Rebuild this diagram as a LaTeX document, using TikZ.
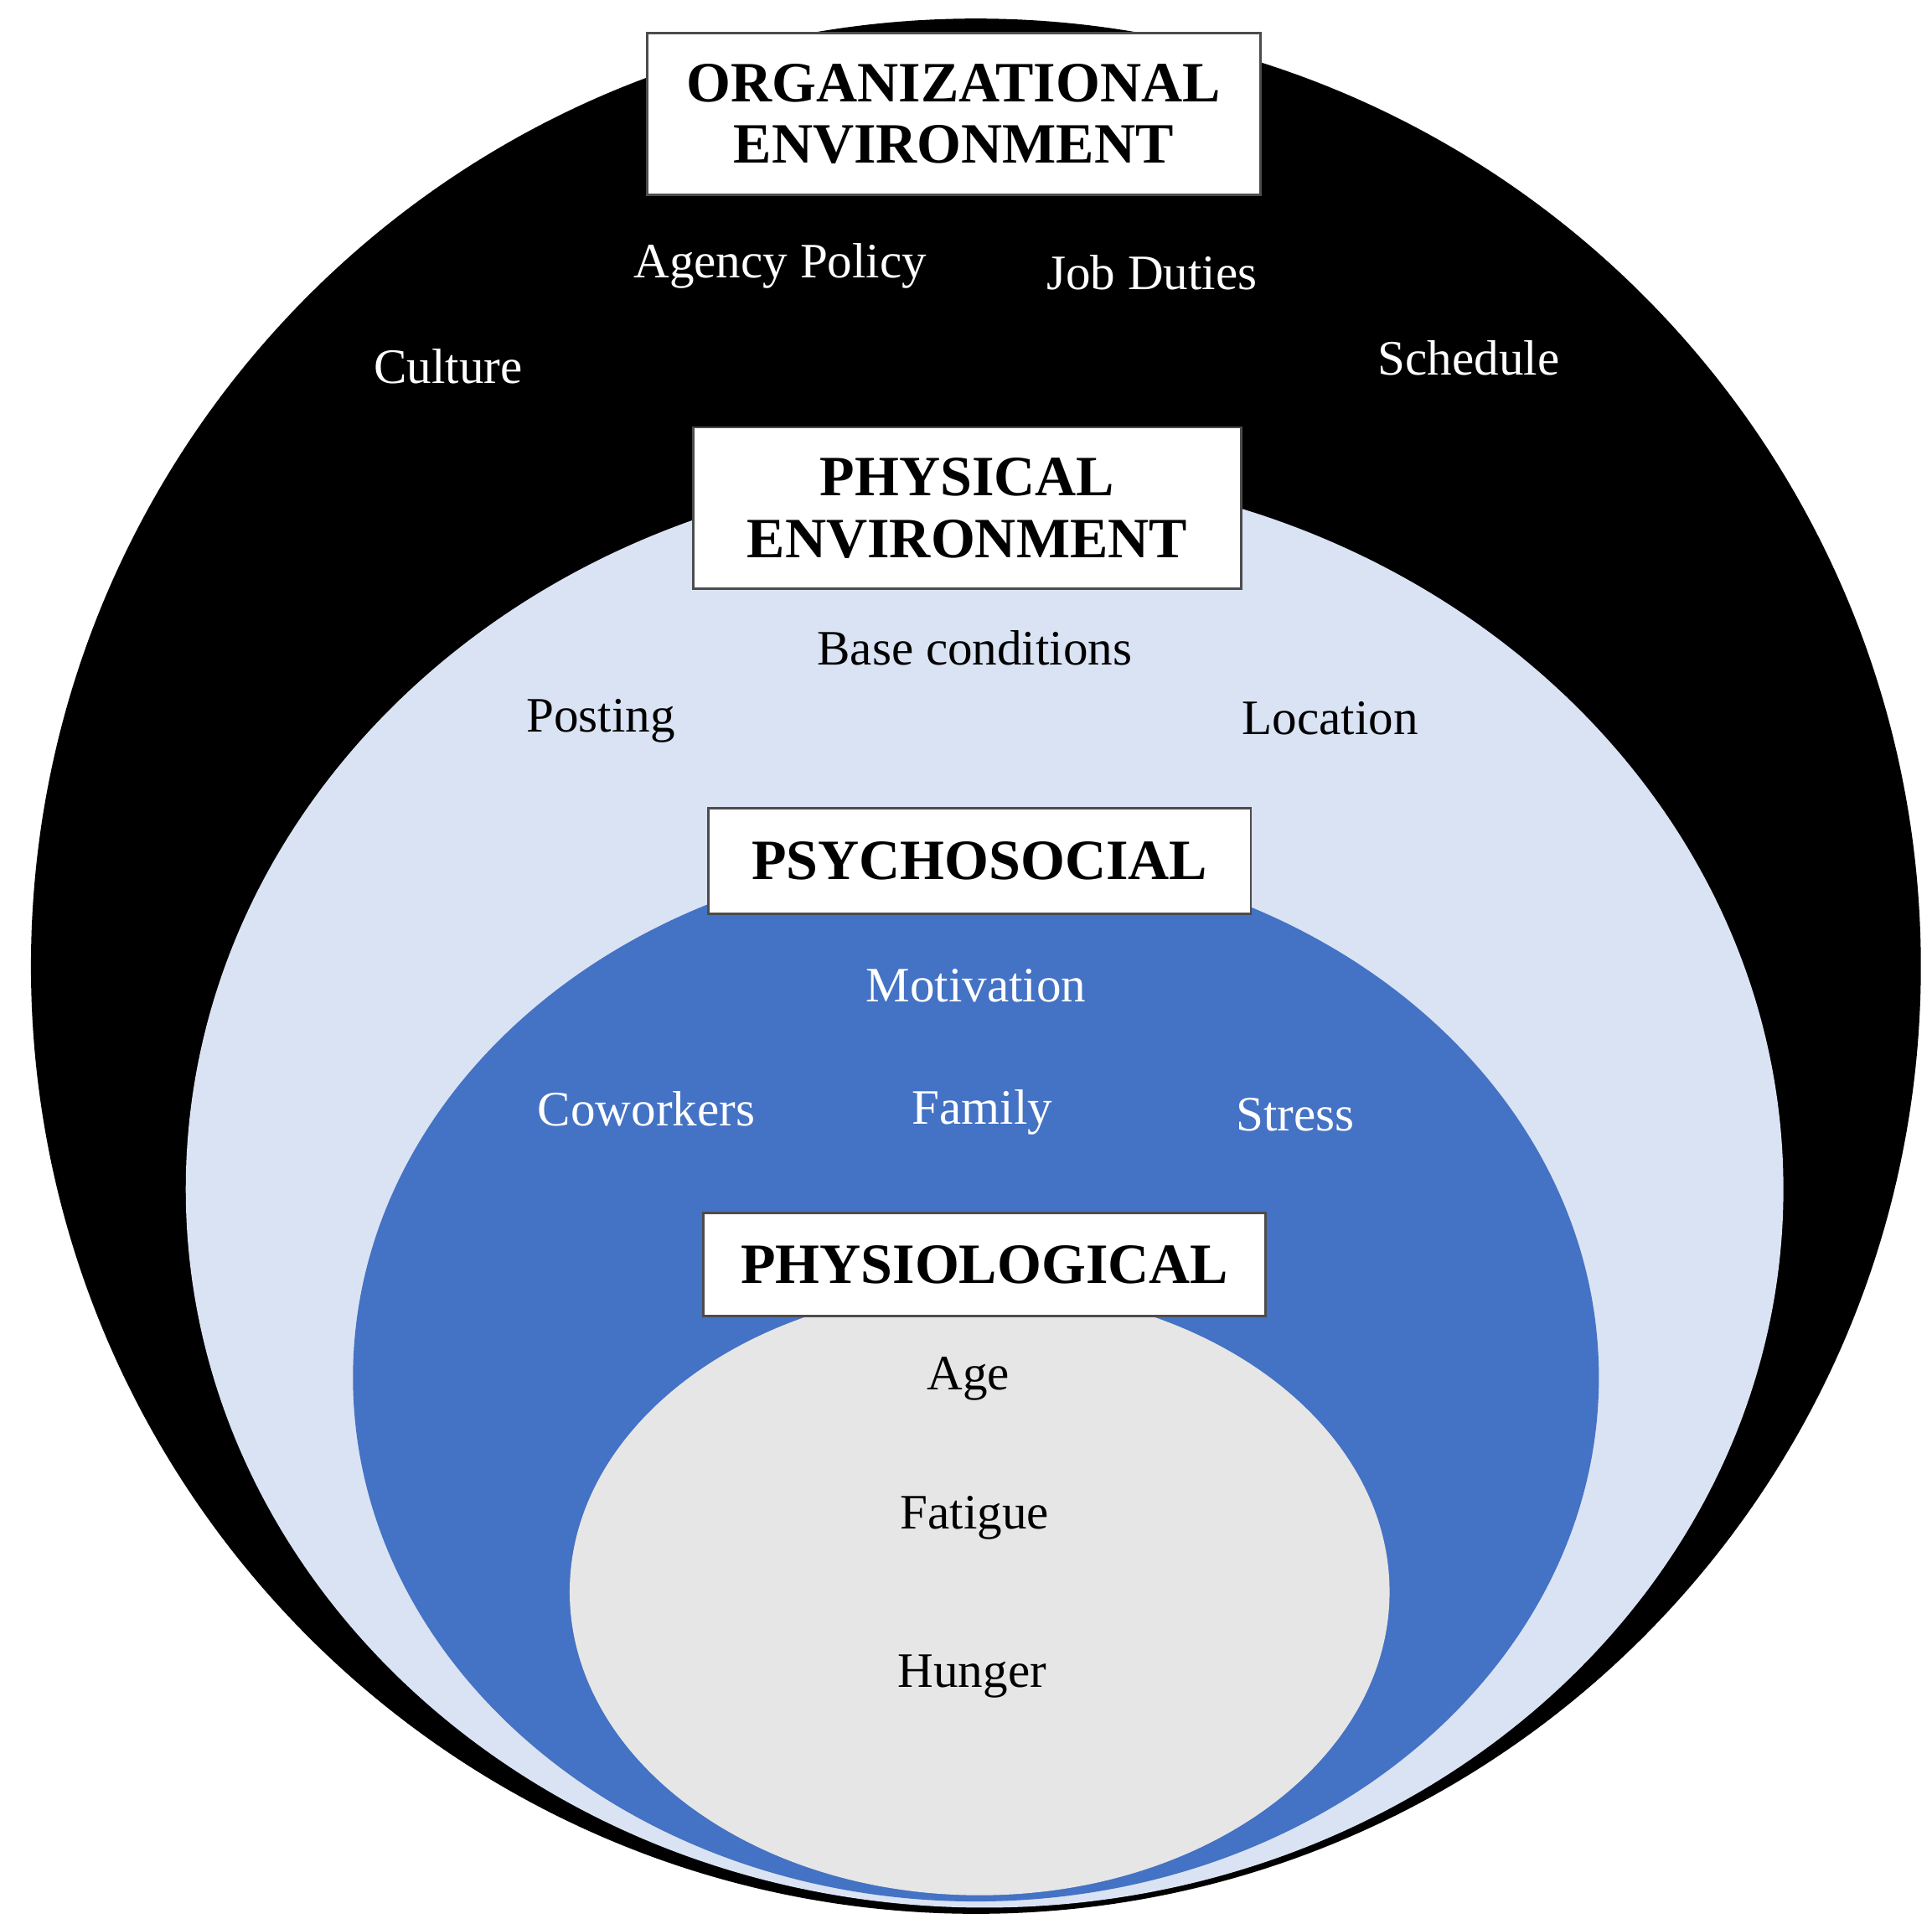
\documentclass[tikz,border=0pt]{standalone}
\usepackage{fontspec}
\setmainfont{Liberation Serif}
\definecolor{lblue}{HTML}{DAE3F3}
\definecolor{mblue}{HTML}{4472C4}
\definecolor{lgray}{HTML}{E6E6E6}
\begin{document}
\begin{tikzpicture}[x=1pt,y=-1pt,
  box/.style={draw=black!70,line width=2pt,fill=white,align=center,font=\fontsize{46}{50}\selectfont\bfseries,inner sep=0pt},
  lw/.style={text=white,font=\fontsize{40}{44}\selectfont},
  lb/.style={text=black,font=\fontsize{40}{44}\selectfont}]
\useasboundingbox (0,0) rectangle (1560,1553);
\fill[black] (788,780) ellipse [x radius=763,y radius=765];
\fill[lblue] (795,960) ellipse [x radius=645,y radius=580];
\fill[mblue] (788,1112) ellipse [x radius=503,y radius=423];
\fill[lgray] (791,1285) ellipse [x radius=331,y radius=245];
\node[box,minimum width=495,minimum height=130] (org) at (770,92) {ORGANIZATIONAL\\ENVIRONMENT};
\node[box,minimum width=442,minimum height=130] (phys) at (781,410) {PHYSICAL\\ENVIRONMENT};
\node[box,minimum width=438,minimum height=85] (psy) at (791,695) {PSYCHOSOCIAL};
\node[box,minimum width=454,minimum height=83] (phy) at (795,1021) {PHYSIOLOGICAL};
\node[lw] (t1) at (630,215) {Agency Policy};
\node[lw] (t2) at (930,220) {Job Duties};
\node[lw] (t3) at (362,296) {Culture};
\node[lw] (t4) at (1186,289) {Schedule};
\node[lb] (t5) at (787,523) {Base conditions};
\node[lb] (t6) at (485,582) {Posting};
\node[lb] (t7) at (1074,580) {Location};
\node[lw] (t8) at (788,796) {Motivation};
\node[lw] (t9) at (522,895) {Coworkers};
\node[lw] (t10) at (793,898) {Family};
\node[lw] (t11) at (1046,900) {Stress};
\node[lb] (t12) at (782,1113) {Age};
\node[lb] (t13) at (787,1225) {Fatigue};
\node[lb] (t14) at (785,1353) {Hunger};
\end{tikzpicture}
\end{document}
